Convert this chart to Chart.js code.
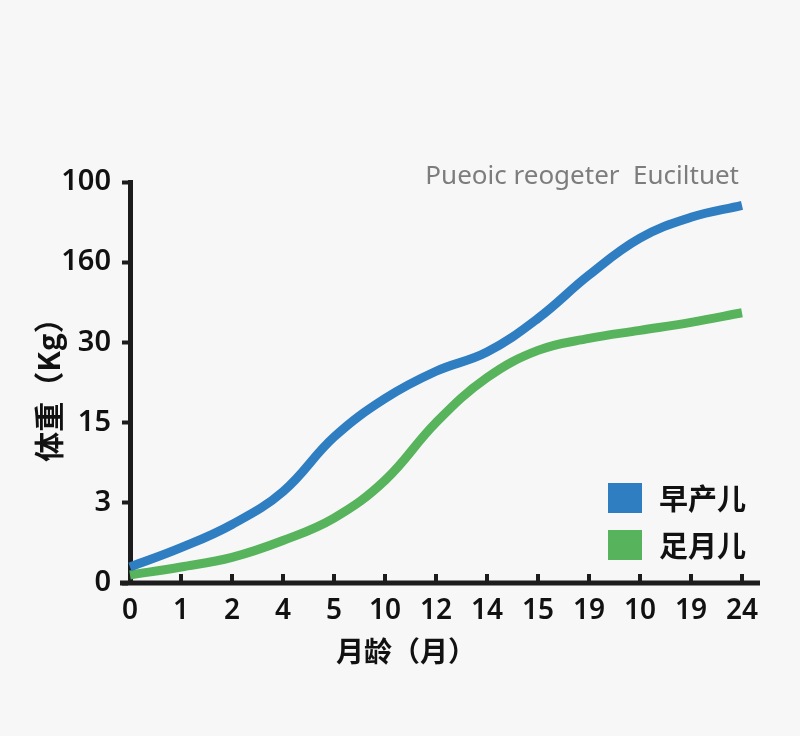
<!DOCTYPE html>
<html lang="zh">
<head>
<meta charset="utf-8">
<title>体重曲线</title>
<script src="https://cdn.jsdelivr.net/npm/chart.js@4.4.1/dist/chart.umd.min.js"></script>
<style>
  html, body { margin: 0; padding: 0; background: #f7f7f7; }
  #wrap { width: 800px; height: 736px; }
</style>
</head>
<body>
<div id="wrap"><canvas id="growth"></canvas></div>
<script>
const ageLabels = ["0", "1", "2", "4", "5", "10", "12", "14", "15", "19", "10", "19", "24"];
const yTickLabels = ["0", "3", "15", "30", "160", "100"];
const pretermWeights = [0.20, 0.44, 0.73, 1.14, 1.82, 2.30, 2.64, 2.88, 3.30, 3.84, 4.30, 4.56, 4.71];
const termWeights = [0.10, 0.20, 0.32, 0.53, 0.81, 1.28, 2.00, 2.56, 2.90, 3.05, 3.15, 3.25, 3.37];
const seriesNames = ["早产儿", "足月儿"];
const seriesColors = ["#2f7ec2", "#58b45c"];
const chartNote = "Pueoic reogeter  Euciltuet";
const xTitle = "月龄（月）";

const AXIS_COLOR = "#1c1c1c";
const LATIN = "'Noto Sans', 'Noto Sans CJK SC', sans-serif";
const CJK = "'Noto Sans CJK SC', 'Noto Sans', sans-serif";

// x axis line runs a bit past the plot on both sides, with ticks pointing up
const axisPlugin = {
  id: "axisPlugin",
  afterDatasetsDraw(chart) {
    const { ctx, chartArea, scales } = chart;
    ctx.save();
    ctx.strokeStyle = AXIS_COLOR;
    ctx.lineWidth = 5;
    ctx.beginPath();
    ctx.moveTo(chartArea.left - 10, chartArea.bottom);
    ctx.lineTo(chartArea.right + 18, chartArea.bottom);
    ctx.stroke();
    ctx.lineWidth = 4;
    scales.x.ticks.forEach((t, i) => {
      if (i === 0) return;
      const px = scales.x.getPixelForTick(i);
      ctx.beginPath();
      ctx.moveTo(px, chartArea.bottom);
      ctx.lineTo(px, chartArea.bottom - 9);
      ctx.stroke();
    });
    ctx.restore();
  }
};

// note text at the top, x title, and the legend inside the plot
const overlayPlugin = {
  id: "overlayPlugin",
  afterDraw(chart) {
    const { ctx, chartArea } = chart;
    ctx.save();
    ctx.fillStyle = "#7d7d7d";
    ctx.font = "26px " + LATIN;
    ctx.textAlign = "right";
    ctx.textBaseline = "middle";
    ctx.fillText(chartNote, chartArea.right - 3, chartArea.top - 5);

    ctx.fillStyle = "#111";
    ctx.textAlign = "center";
    ctx.font = "bold 28px " + CJK;
    ctx.fillText(xTitle, (chartArea.left + chartArea.right) / 2 - 30, chartArea.bottom + 68);

    ctx.textAlign = "left";
    ctx.font = "600 29px " + CJK;
    chart.data.datasets.forEach((ds, i) => {
      const boxX = chartArea.right - 134;
      const boxY = chartArea.bottom - 100 + i * 47;
      ctx.fillStyle = ds.borderColor;
      ctx.fillRect(boxX, boxY, 34, 30);
      ctx.fillStyle = "#111";
      ctx.fillText(ds.label, boxX + 51, boxY + 16);
    });
    ctx.restore();
  }
};

new Chart(document.getElementById("growth"), {
  type: "line",
  data: {
    labels: ageLabels,
    datasets: [
      {
        label: seriesNames[0],
        data: pretermWeights,
        borderColor: seriesColors[0],
        borderWidth: 9,
        pointRadius: 0,
        tension: 0.4,
        fill: false
      },
      {
        label: seriesNames[1],
        data: termWeights,
        borderColor: seriesColors[1],
        borderWidth: 9,
        pointRadius: 0,
        tension: 0.4,
        fill: false
      }
    ]
  },
  options: {
    responsive: true,
    maintainAspectRatio: false,
    animation: false,
    layout: { padding: { top: 182, right: 58, left: 0, bottom: 0 } },
    plugins: {
      legend: { display: false },
      tooltip: { enabled: false }
    },
    scales: {
      x: {
        type: "category",
        offset: false,
        afterFit: (s) => { s.height = 153; },
        grid: { display: false, drawTicks: false },
        border: { display: false },
        ticks: {
          color: "#111",
          padding: 11,
          autoSkip: false,
          maxRotation: 0,
          font: { family: LATIN, size: 28, weight: "600" }
        }
      },
      y: {
        min: 0,
        max: 5,
        afterFit: (s) => { s.width = 130; },
        border: { display: true, color: AXIS_COLOR, width: 5 },
        grid: {
          drawOnChartArea: false,
          drawTicks: true,
          tickLength: 8,
          tickWidth: 4,
          tickColor: AXIS_COLOR
        },
        ticks: {
          stepSize: 1,
          color: "#111",
          padding: 11,
          font: { family: LATIN, size: 29, weight: "600" },
          callback: (v) => yTickLabels[v]
        },
        title: {
          display: true,
          text: "体重（Kg）",
          color: "#111",
          padding: { top: 31, bottom: 0 },
          font: { family: CJK, size: 30, weight: "bold" }
        }
      }
    }
  },
  plugins: [axisPlugin, overlayPlugin]
});
</script>
</body>
</html>
